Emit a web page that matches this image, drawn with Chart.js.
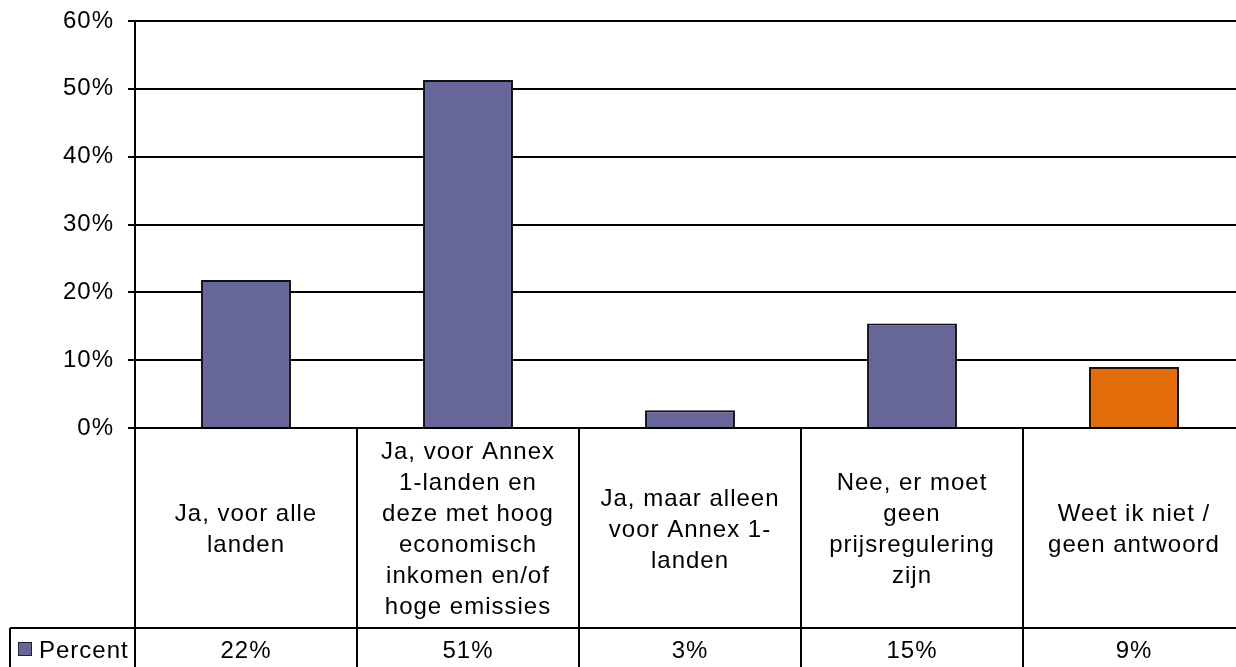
<!DOCTYPE html>
<html>
<head>
<meta charset="utf-8">
<script src="https://cdn.jsdelivr.net/npm/chart.js@4"></script>
<style>
    html, body { margin: 0; padding: 0; background: #fff; overflow: hidden; }
    #wrap { width: 1245px; height: 667px; position: relative; }
</style>
</head>
<body>
<div id="wrap"><canvas id="chart"></canvas></div>
<script>
const categories = [
    ['Ja, voor alle', 'landen'],
    ['Ja, voor Annex', '1-landen en', 'deze met hoog', 'economisch', 'inkomen en/of', 'hoge emissies'],
    ['Ja, maar alleen', 'voor Annex 1-', 'landen'],
    ['Nee, er moet', 'geen', 'prijsregulering', 'zijn'],
    ['Weet ik niet /', 'geen antwoord']
];
const percent = [21.8, 51.3, 2.6, 15.4, 9.0];
const tableLabels = ['22%', '51%', '3%', '15%', '9%'];
const seriesName = 'Percent';
const yTicks = [0, 10, 20, 30, 40, 50, 60];

const FONT = '"Liberation Sans", Arial, sans-serif';
const PURPLE = '#666699';
const ORANGE = '#E36C0A';

const spacing = {
    id: 'spacing',
    beforeDraw(chart) { chart.ctx.letterSpacing = '1px'; }
};

const dataTable = {
    id: 'dataTable',
    afterDraw(chart) {
        const { ctx, chartArea, scales } = chart;
        const x = scales.x;
        const top = chartArea.bottom;
        const rowY = 628;
        const bottom = chart.height;
        const n = categories.length;
        const step = (chartArea.right - chartArea.left) / n;

        ctx.save();
        ctx.letterSpacing = '1px';
        ctx.strokeStyle = '#000';
        ctx.lineWidth = 2;

        // vertical cell borders
        for (let i = 0; i <= n; i++) {
            const px = Math.round(chartArea.left + i * step);
            ctx.beginPath();
            ctx.moveTo(px, top);
            ctx.lineTo(px, bottom);
            ctx.stroke();
        }
        // row divider + legend cell
        ctx.beginPath();
        ctx.moveTo(10, rowY);
        ctx.lineTo(chartArea.right, rowY);
        ctx.moveTo(10, rowY);
        ctx.lineTo(10, bottom);
        ctx.stroke();

        ctx.fillStyle = '#000';
        ctx.font = '24px ' + FONT;
        ctx.textAlign = 'center';
        ctx.textBaseline = 'middle';
        const lh = 31;
        categories.forEach((lines, i) => {
            const cx = x.getPixelForValue(i);
            const midY = (top + rowY) / 2 + 2;
            const y0 = midY - (lines.length - 1) * lh / 2;
            lines.forEach((t, j) => ctx.fillText(t, cx, y0 + j * lh));
            ctx.fillText(tableLabels[i], cx, 651);
        });

        // legend key
        ctx.fillStyle = PURPLE;
        ctx.fillRect(18.5, 642.5, 13, 13);
        ctx.lineWidth = 1;
        ctx.strokeStyle = '#222';
        ctx.strokeRect(18.5, 642.5, 13, 13);
        ctx.fillStyle = '#000';
        ctx.textAlign = 'left';
        ctx.fillText(seriesName, 39, 651);
        ctx.restore();
    }
};

new Chart(document.getElementById('chart'), {
    type: 'bar',
    data: {
        labels: categories.map(l => l.join(' ')),
        datasets: [{
            label: seriesName,
            data: percent,
            backgroundColor: percent.map((v, i) => i === percent.length - 1 ? ORANGE : PURPLE),
            borderColor: '#111',
            borderWidth: 2,
            categoryPercentage: 1,
            barPercentage: 0.405
        }]
    },
    options: {
        responsive: true,
        maintainAspectRatio: false,
        animation: false,
        layout: { padding: { top: 21, bottom: 239, left: 0, right: 0 } },
        plugins: {
            legend: { display: false },
            tooltip: { enabled: false }
        },
        scales: {
            x: { display: false },
            y: {
                min: 0,
                max: 60,
                afterFit: s => { s.width = 135; s.paddingTop = 0; s.paddingBottom = 0; },
                afterBuildTicks: s => { s.ticks = yTicks.map(v => ({ value: v })); },
                border: { display: true, color: '#000', width: 2 },
                grid: { color: '#000', lineWidth: 2, tickLength: 7, drawTicks: true },
                ticks: {
                    color: '#000',
                    padding: 14,
                    font: { family: FONT, size: 24 },
                    callback: v => v + '%'
                }
            }
        }
    },
    plugins: [spacing, dataTable]
});
</script>
</body>
</html>
